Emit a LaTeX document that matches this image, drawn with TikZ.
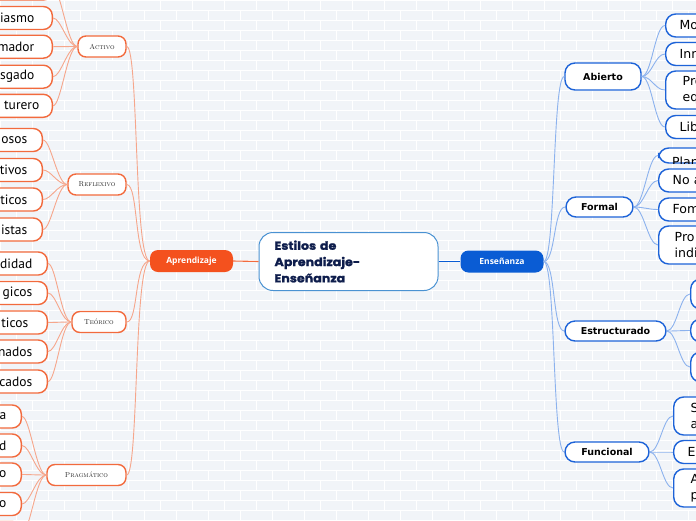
\documentclass[tikz,border=0pt]{standalone}
\usepackage{fontspec}
\newfontfamily\leaffont{Open Sans}
\newfontfamily\fragfont{PT Sans}
\newfontfamily\dejafont{DejaVu Sans}
\newfontfamily\titlefont{Poppins}[FakeStretch=1.1,FakeBold=1.6]
\definecolor{bgcol}{HTML}{F1F4F8}
\definecolor{orgA}{HTML}{F4511E}
\definecolor{orgB}{HTML}{F26A3D}
\definecolor{orgL}{HTML}{F6A68B}
\definecolor{bluA}{HTML}{0A5CD4}
\definecolor{bluB}{HTML}{1D63D8}
\definecolor{bluL}{HTML}{8CB2EE}
\definecolor{bluC}{HTML}{4A92D2}
\definecolor{navy}{HTML}{0E1D4C}
\begin{document}
\begin{tikzpicture}
  [x=1pt,y=-1pt,
   brick/.style={white,line width=.7pt},
   centre/.style={draw=bluC,line width=1pt,fill=white,rounded corners=14pt,
     minimum width=179pt,minimum height=58pt,text width=148pt,inner xsep=15.5pt,align=left,
     text=navy,font=\titlefont\bfseries\fontsize{11.5}{16.3}\selectfont},
   mainO/.style={fill=orgA,rounded corners=8pt,minimum width=83pt,minimum height=22pt,
     text=white,font=\leaffont\bfseries\fontsize{8.5}{10}\selectfont},
   mainB/.style={mainO,fill=bluA},
   catO/.style={draw=orgB,line width=1.4pt,fill=white,rounded corners=8pt,
     minimum height=21pt,inner sep=0pt,text=black!85,font=\scshape\fontsize{7.2}{8}\selectfont},
   leafO/.style={draw=orgB,line width=1.4pt,fill=white,rounded corners=9pt,anchor=east,
     minimum height=23pt,text width=100pt,inner xsep=15pt,inner ysep=0pt,align=right,
     font=\fragfont\fontsize{13.5}{15}\selectfont},
   catB/.style={draw=bluB,line width=1.4pt,fill=white,rounded corners=10pt,
     minimum height=20pt,inner sep=0pt,font=\dejafont\bfseries\fontsize{9.5}{10}\selectfont},
   leafB/.style={draw=bluB,line width=1.4pt,fill=white,rounded corners=10pt,anchor=west,
     minimum height=23pt,text width=100pt,inner xsep=14pt,inner ysep=0pt,align=left,
     font=\dejafont\fontsize{12.5}{16}\selectfont},
   linkO/.style={orgL,line width=.9pt},
   linkB/.style={bluL,line width=.9pt}]
  \useasboundingbox (0,0) rectangle (696,520);
  % background bricks
  \fill[bgcol] (0,0) rectangle (696,520);
  \foreach \r in {0,...,52}{
    \draw[brick] (0,\r*10) -- (696,\r*10);
    \pgfmathsetmacro\off{mod(\r,2)*16}
    \foreach \c in {0,...,22}
      \draw[brick] (\off+\c*32,\r*10) -- ++(0,10);
  }
  % centre and main branches
  \node[centre] (cen) at (348.5,261.5) {Estilos de\\Aprendizaje-\\Enseñanza};
  \node[mainO] (apr) at (191.5,261) {Aprendizaje};
  \node[mainB] (ens) at (502,261.5) {Enseñanza};
  \draw[orgB,line width=1.1pt] (apr.east) -- (cen.west);
  \draw[bluA,line width=1.1pt] (cen.east) -- (ens.west);
  % left categories
  \node[catO,minimum width=48pt] (act) at (102,46.5) {Activo};
  \node[catO,minimum width=58pt] (ref) at (97,184.5) {Reflexivo};
  \node[catO,minimum width=54pt] (teo) at (99,322) {Teórico};
  \node[catO,minimum width=79pt] (pra) at (86.5,475) {Pragmático};
  % left leaves
  \node[leafO] (act1) at (53,-11.5) {};
  \node[leafO,inner xsep=18pt] (act2) at (53,18) {iasmo};
  \node[leafO,inner xsep=18pt] (act3) at (53,46.7) {mador};
  \node[leafO,inner xsep=18pt] (act4) at (53,76.7) {sgado};
  \node[leafO,inner xsep=13pt] (act5) at (53,105.8) {turero};
  \node[leafO] (ref1) at (43,140) {osos};
  \node[leafO] (ref2) at (43,170) {tivos};
  \node[leafO] (ref3) at (43,199.5) {ticos};
  \node[leafO] (ref4) at (43,229.5) {istas};
  \node[leafO] (teo1) at (48,263.5) {didad};
  \node[leafO] (teo2) at (48,293) {gicos};
  \node[leafO,inner xsep=19pt] (teo3) at (48,322.5) {ticos};
  \node[leafO] (teo4) at (48,351.5) {nados};
  \node[leafO] (teo5) at (48,381.5) {cados};
  \node[leafO] (pra1) at (22,416.5) {a};
  \node[leafO] (pra2) at (22,445.5) {d};
  \node[leafO] (pra3) at (22,474.5) {o};
  \node[leafO] (pra4) at (22,504) {o};
  \node[leafO] (pra5) at (22,533) {};
  % right categories
  \node[catB,minimum width=76pt,minimum height=27pt] (abi) at (603,76.5) {Abierto};
  \node[catB,minimum width=67pt] (frm) at (599.5,207) {Formal};
  \node[catB,minimum width=101pt] (est) at (615.5,331) {Estructurado};
  \node[catB,minimum width=84pt] (fun) at (607,452) {Funcional};
  % right leaves
  \node[leafB] (abi1) at (665,25.5) {Mo};
  \node[leafB] (abi2) at (665,54) {Inn};
  \node[leafB,minimum height=38pt,inner xsep=17pt] (abi3) at (665,90) {Pro\\eq};
  \node[leafB] (abi4) at (665,127) {Lib};
  \node[leafB,minimum height=15pt] (frm1) at (658,155.5) {};
  \begin{scope}
    \clip (frm1.south west) rectangle (frm1.north east);
    \node[anchor=base west,inner sep=0pt,font=\dejafont\fontsize{12.5}{15}\selectfont] (plan) at (672,166.5) {Plan};
  \end{scope}
  \node[leafB] (frm2) at (658,180.5) {No a};
  \node[leafB] (frm3) at (658,209.5) {Fom};
  \node[leafB,minimum height=38pt,inner xsep=16pt] (frm4) at (658,245) {Pro\\indi};
  \node[leafB,minimum height=30pt] (est1) at (690,294) {};
  \node[leafB] (est2) at (690,330.5) {};
  \node[leafB,minimum height=30pt] (est3) at (690,367) {};
  \node[leafB,minimum height=38pt,inner xsep=17pt] (fun1) at (673,416) {S\\a};
  \node[leafB] (fun2) at (673,452) {E};
  \node[leafB,minimum height=38pt,inner xsep=17pt] (fun3) at (673,488) {A\\p};
  % connectors
  \foreach \to in {act,ref,teo,pra}
    \draw[linkO] (apr.west) .. controls +(-16,0) and +(12,0) .. (\to.east);
  \foreach \from/\to in {act/act1,act/act2,act/act3,act/act4,act/act5,
      ref/ref1,ref/ref2,ref/ref3,ref/ref4,
      teo/teo1,teo/teo2,teo/teo3,teo/teo4,teo/teo5,
      pra/pra1,pra/pra2,pra/pra3,pra/pra4,pra/pra5}
    \draw[linkO] (\from.west) .. controls +(-10,0) and +(8,0) .. (\to.east);
  \foreach \to in {abi,frm,est,fun}
    \draw[linkB] (ens.east) .. controls +(12,0) and +(-12,0) .. (\to.west);
  \foreach \from/\to in {abi/abi1,abi/abi2,abi/abi3,abi/abi4,
      frm/frm1,frm/frm2,frm/frm3,frm/frm4,
      est/est1,est/est2,est/est3,
      fun/fun1,fun/fun2,fun/fun3}
    \draw[linkB] (\from.east) .. controls +(10,0) and +(-10,0) .. (\to.west);
\end{tikzpicture}
\end{document}
